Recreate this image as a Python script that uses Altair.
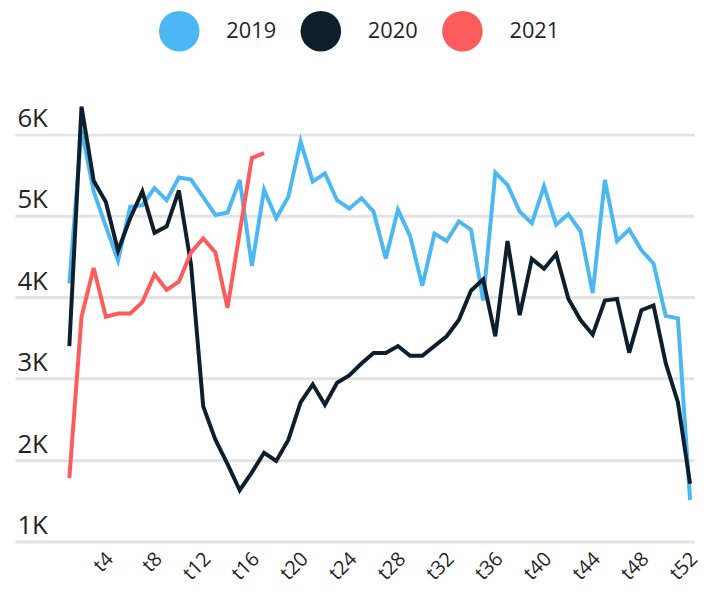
import altair as alt
import pandas as pd

weeks = list(range(1, 53))
years = ["2019", "2020", "2021"]

v2019 = [4170, 6050, 5300, 4870, 4450, 5110, 5130, 5340, 5190, 5470,
         5445, 5230, 5010, 5040, 5440, 4385, 5320, 4970, 5235, 5910,
         5420, 5520, 5190, 5090, 5215, 5050, 4475, 5075, 4750, 4140,
         4780, 4690, 4930, 4830, 3960, 5530, 5380, 5050, 4910, 5360,
         4890, 5020, 4810, 4050, 5440, 4690, 4830, 4580, 4410, 3770,
         3740, 1510]
v2020 = [3400, 6340, 5430, 5170, 4570, 4970, 5300, 4790, 4870, 5310,
         4400, 2660, 2250, 1950, 1630, 1850, 2090, 1990, 2250, 2710,
         2930, 2680, 2950, 3040, 3185, 3315, 3315, 3400, 3280, 3280,
         3400, 3520, 3720, 4080, 4220, 3520, 4690, 3780, 4470, 4350,
         4530, 3980, 3720, 3540, 3960, 3980, 3320, 3840, 3900, 3190,
         2710, 1710]
v2021 = [1780, 3760, 4360, 3760, 3800, 3800, 3940, 4280, 4090, 4190,
         4550, 4720, 4550, 3870, 4800, 5710, 5770]

colors = ["#4BB8F4", "#0D1F2D", "#FD5C5C"]
x_ticks = [4, 8, 12, 16, 20, 24, 28, 32, 36, 40, 44, 48, 52]
y_ticks = [1000, 2000, 3000, 4000, 5000, 6000]

rows = []
for yr, vals in zip(years, [v2019, v2020, v2021]):
    for w, v in zip(weeks, vals):
        rows.append({"week": w, "value": v, "year": yr})
df = pd.DataFrame(rows)

x_enc = alt.X("week:Q",
              scale=alt.Scale(domain=[-3.47, 52.33], nice=False, zero=False),
              axis=alt.Axis(values=x_ticks, labelExpr="'t' + datum.value",
                            labelAngle=-45, labelAlign="right", labelBaseline="top",
                            grid=False, domain=False, ticks=False,
                            labelFontSize=20, labelPadding=7, labelOffset=-3,
                            title=None, labelColor="#252423"))
y_enc = alt.Y("value:Q",
              scale=alt.Scale(domain=[1000, 6397], nice=False, zero=False),
              axis=alt.Axis(values=y_ticks, labelExpr="(datum.value / 1000) + 'K'",
                            grid=True, gridColor="#E3E3E3", gridWidth=3,
                            domain=False, ticks=False,
                            labelAlign="left", labelBaseline="alphabetic",
                            labelPadding=-2, labelOffset=-8, labelFontSize=26,
                            labelColor="#252423", title=None))

base = alt.Chart(df)

legend_layer = base.mark_point(filled=True, size=0, opacity=1).encode(
    x=x_enc, y=y_enc,
    fill=alt.Fill("year:N",
                  scale=alt.Scale(domain=years, range=colors),
                  legend=alt.Legend(orient="none", legendX=145.5, legendY=-92,
                                    direction="horizontal", title=None,
                                    symbolType="circle", symbolSize=1681,
                                    symbolStrokeWidth=0, symbolOpacity=1,
                                    labelFontSize=22, labelOffset=27,
                                    columnPadding=24, labelColor="#252423",
                                    padding=0)),
)

lines = base.mark_line(strokeWidth=4).encode(
    x=x_enc, y=y_enc,
    color=alt.Color("year:N", scale=alt.Scale(domain=years, range=colors),
                    legend=None),
)

chart = alt.layer(legend_layer, lines).properties(
    width=686, height=444,
    padding={"left": 7, "top": 0, "right": 0, "bottom": 0},
).configure(font="Open Sans").configure_view(stroke="transparent", strokeWidth=0)

chart.save("out.html", embed_options={"renderer": "svg", "actions": False})
